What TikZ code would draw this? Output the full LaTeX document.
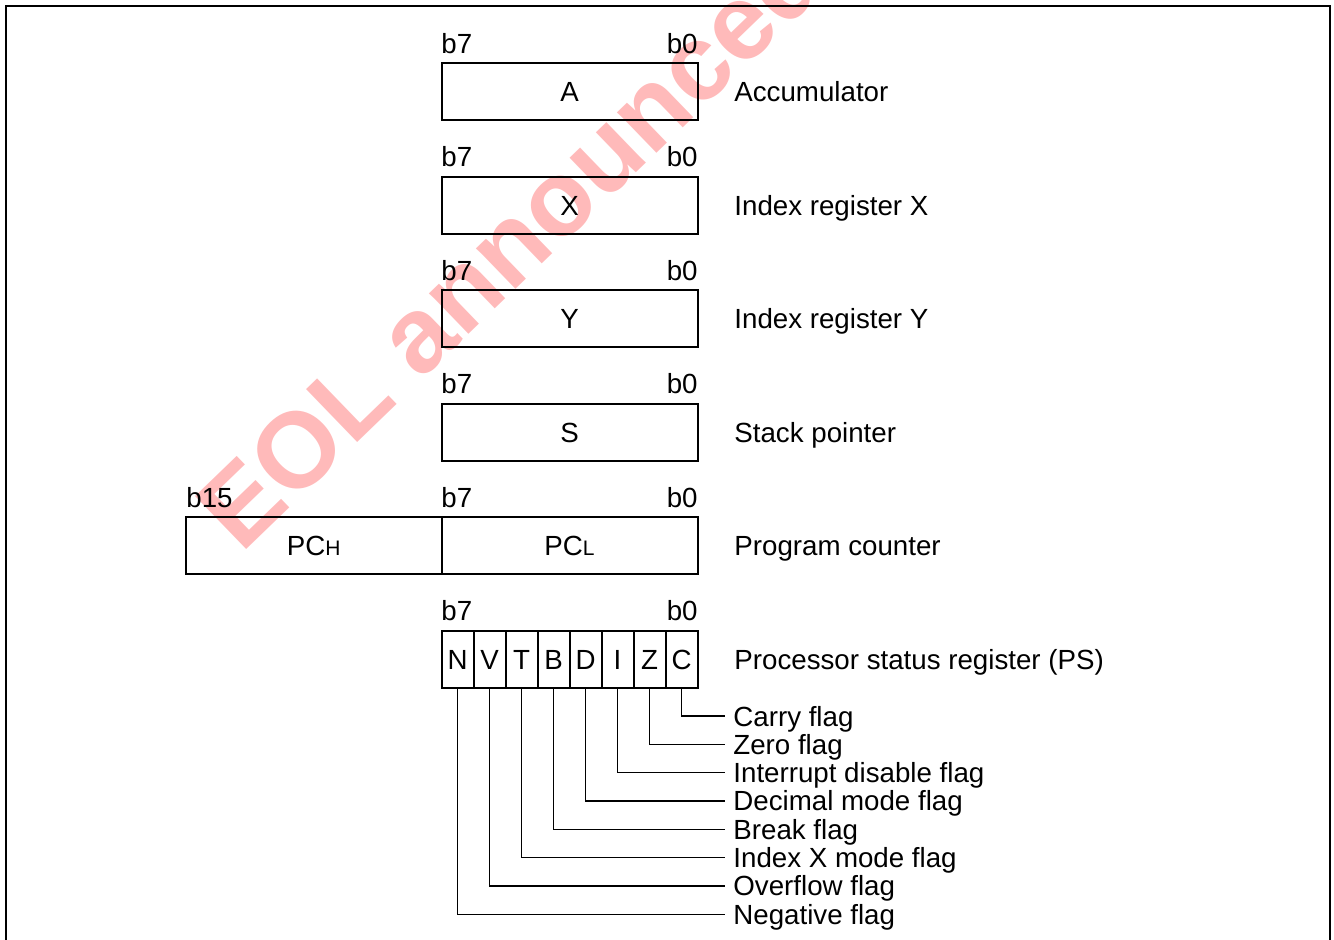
\documentclass[tikz,border=0pt]{standalone}
\usepackage{fontspec}
\setmainfont{Liberation Sans}
\begin{document}
\begin{tikzpicture}[x=0.5pt,y=0.5pt]
            \tikzstyle{every node}+=[inner sep=0pt, font=\fontsize{13.85}{16}\selectfont]
            \tikzstyle{reg}=[draw, line width=1pt, minimum width=128pt, minimum height=28.5pt]
            \tikzstyle{bitcell}=[draw, line width=1pt, minimum width=16pt, minimum height=28.5pt]
            \tikzstyle{bitno}=[anchor=base]
            \tikzstyle{regname}=[anchor=base west]
            \tikzstyle{flagname}=[anchor=base west, inner xsep=4pt]
            \tikzstyle{flagline}=[line width=0.6pt]
                \useasboundingbox (0,0) rectangle (1334,-940);
                % watermark
                \begin{scope}
                \clip (0,0) rectangle (1334,-940);
                \node [rotate=44, anchor=base west, text=red!27, font=\fontsize{53.5}{54}\bfseries\selectfont] (eol) at (241,-555) {EOL announced};
                \end{scope}
                % frame
                \draw [line width=1.3pt] (6,-950) -- (6,-6) -- (1330,-6) -- (1330,-950);
                % A
                \node [reg] (rA) at (569.5,-91.7) {};
                \draw (569.5,-101.7) node [bitno] {A};
                \draw (441,-53.3) node [bitno, anchor=base west] (a7) {b7};
                \draw (698,-53.3) node [bitno, anchor=base east] (a0) {b0};
                \draw (734,-101.7) node [regname] (lA) {Accumulator};
                % X
                \node [reg] (rX) at (569.5,-205.7) {};
                \draw (569.5,-215.7) node [bitno] {X};
                \draw (441,-167) node [bitno, anchor=base west] (x7) {b7};
                \draw (698,-167) node [bitno, anchor=base east] (x0) {b0};
                \draw (734,-215.7) node [regname] (lX) {Index register X};
                % Y
                \node [reg] (rY) at (569.5,-319) {};
                \draw (569.5,-329) node [bitno] {Y};
                \draw (441,-280.5) node [bitno, anchor=base west] (y7) {b7};
                \draw (698,-280.5) node [bitno, anchor=base east] (y0) {b0};
                \draw (734,-329) node [regname] (lY) {Index register Y};
                % S
                \node [reg] (rS) at (569.5,-432.3) {};
                \draw (569.5,-442.3) node [bitno] {S};
                \draw (441,-393.8) node [bitno, anchor=base west] (s7) {b7};
                \draw (698,-393.8) node [bitno, anchor=base east] (s0) {b0};
                \draw (734,-442.3) node [regname] (lS) {Stack pointer};
                % PC
                \node [reg, minimum width=127.75pt] (rPCH) at (313.75,-545.7) {};
                \node [reg] (rPCL) at (569.5,-545.7) {};
                \draw (313.75,-555.7) node [bitno] {PC{\fontsize{10.5}{12}\selectfont H}};
                \draw (569.5,-555.7) node [bitno] {PC{\fontsize{10.5}{12}\selectfont L}};
                \draw (186,-507.2) node [bitno, anchor=base west] (p15) {b15};
                \draw (441,-507.2) node [bitno, anchor=base west] (p7) {b7};
                \draw (698,-507.2) node [bitno, anchor=base east] (p0) {b0};
                \draw (734,-555.7) node [regname] (lPC) {Program counter};
                % PS
                \draw (441,-620.7) node [bitno, anchor=base west] (ps7) {b7};
                \draw (698,-620.7) node [bitno, anchor=base east] (ps0) {b0};
                \node [bitcell] (fN) at (457.5,-659.2) {};
                \node [bitcell] (fV) at (489.5,-659.2) {};
                \node [bitcell] (fT) at (521.5,-659.2) {};
                \node [bitcell] (fB) at (553.5,-659.2) {};
                \node [bitcell] (fD) at (585.5,-659.2) {};
                \node [bitcell] (fI) at (617.5,-659.2) {};
                \node [bitcell] (fZ) at (649.5,-659.2) {};
                \node [bitcell] (fC) at (681.5,-659.2) {};
                \draw (457.5,-669.2) node [bitno] {N};
                \draw (489.5,-669.2) node [bitno] {V};
                \draw (521.5,-669.2) node [bitno] {T};
                \draw (553.5,-669.2) node [bitno] {B};
                \draw (585.5,-669.2) node [bitno] {D};
                \draw (617.5,-669.2) node [bitno] {I};
                \draw (649.5,-669.2) node [bitno] {Z};
                \draw (681.5,-669.2) node [bitno] {C};
                \draw (734,-669.2) node [regname] (lPS) {Processor status register (PS)};
                % flags
                \draw (725,-726) node [flagname] (gC) {Carry flag};
                \draw (725,-754.6) node [flagname] (gZ) {Zero flag};
                \draw (725,-782.8) node [flagname] (gI) {Interrupt disable flag};
                \draw (725,-811) node [flagname] (gD) {Decimal mode flag};
                \draw (725,-839.3) node [flagname] (gB) {Break flag};
                \draw (725,-867.6) node [flagname] (gT) {Index X mode flag};
                \draw (725,-895.9) node [flagname] (gV) {Overflow flag};
                \draw (725,-924.2) node [flagname] (gN) {Negative flag};
                \draw [flagline] (fC.south) |- ([yshift=5pt]gC.base west);
                \draw [flagline] (fZ.south) |- ([yshift=5pt]gZ.base west);
                \draw [flagline] (fI.south) |- ([yshift=5pt]gI.base west);
                \draw [flagline] (fD.south) |- ([yshift=5pt]gD.base west);
                \draw [flagline] (fB.south) |- ([yshift=5pt]gB.base west);
                \draw [flagline] (fT.south) |- ([yshift=5pt]gT.base west);
                \draw [flagline] (fV.south) |- ([yshift=5pt]gV.base west);
                \draw [flagline] (fN.south) |- ([yshift=5pt]gN.base west);
            \end{tikzpicture}
\end{document}
